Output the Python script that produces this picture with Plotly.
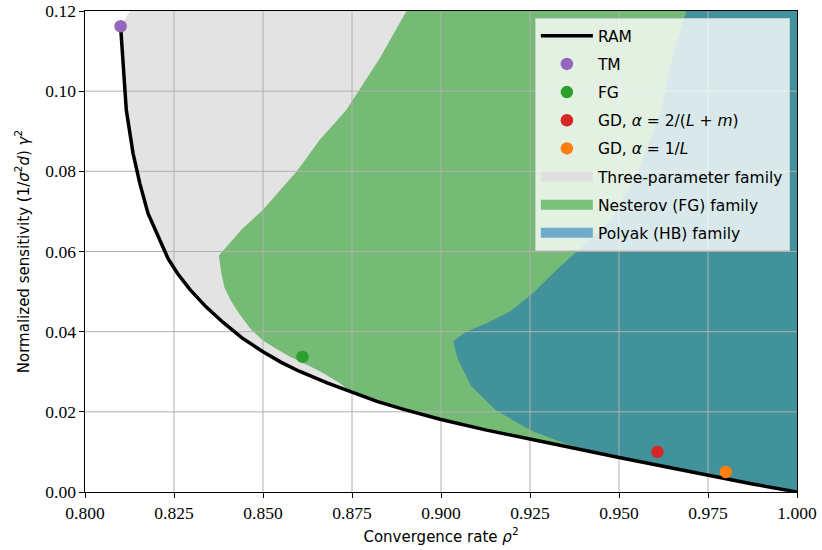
import plotly.graph_objects as go

# ---- data ----
ram_x = [0.8100, 0.8107, 0.8116, 0.8135, 0.8154, 0.8177, 0.8210, 0.8233, 0.8260, 0.8295,
         0.8340, 0.8388, 0.8440, 0.8500, 0.8550, 0.8600, 0.8680, 0.8750, 0.8820, 0.8900,
         0.9000, 0.9125, 0.9250, 0.9375, 0.9500, 0.9625, 0.9750, 0.9875, 1.0000]
ram_y = [0.1162, 0.1077, 0.0953, 0.0845, 0.0770, 0.0695, 0.0629, 0.0583, 0.0545, 0.0505,
         0.0462, 0.0423, 0.0385, 0.0350, 0.0324, 0.0302, 0.0272, 0.0248, 0.0226, 0.0205,
         0.0181, 0.0155, 0.0131, 0.0109, 0.0086, 0.0064, 0.0041, 0.0020, 0.0000]

# three-parameter family: top-left corner above the TM point
three_top_x = [0.8126]
three_top_y = [0.1200]

# Nesterov (FG) family boundary, from the top edge down to where it meets RAM
fg_x = [0.8903, 0.8828, 0.8734, 0.8659, 0.8594, 0.8500, 0.8440, 0.8400, 0.8376,
        0.8383, 0.8392, 0.8411, 0.8435, 0.8467, 0.8500, 0.8538, 0.8575, 0.8622,
        0.8669, 0.8715]
fg_y = [0.1200, 0.1082, 0.0953, 0.0878, 0.0799, 0.0704, 0.0655, 0.0615, 0.0590,
        0.0546, 0.0509, 0.0475, 0.0442, 0.0405, 0.0378, 0.0357, 0.0338, 0.0318,
        0.0297, 0.0272]

# Polyak (HB) family boundary, from the top edge down to where it meets RAM
hb_x = [0.9689, 0.9652, 0.9614, 0.9549, 0.9474, 0.9380, 0.9324, 0.9258, 0.9193,
        0.9128, 0.9071, 0.9034, 0.9048, 0.9085, 0.9156, 0.9254, 0.9352, 0.9420]
hb_y = [0.1200, 0.1090, 0.0940, 0.0791, 0.0674, 0.0598, 0.0554, 0.0496, 0.0450,
        0.0421, 0.0400, 0.0376, 0.0330, 0.0264, 0.0203, 0.0153, 0.0120, 0.0104]

points = {
    "TM": (0.8100, 0.1162, "#9467bd"),
    "FG": (0.8611, 0.0337, "#2ca02c"),
    "GD, <i>α</i> = 2/(<i>L</i> + <i>m</i>)": (0.9608, 0.0100, "#d62728"),
    "GD, <i>α</i> = 1/<i>L</i>": (0.9800, 0.0050, "#ff7f0e"),
}

families = [
    ("Three-parameter family", "#e3e3e3", "#dfe1df"),
    ("Nesterov (FG) family", "rgba(44,160,44,0.6)", "#7ac07a"),
    ("Polyak (HB) family", "rgba(31,119,180,0.6)", "#72aacc"),
]

x_ticks = [0.800, 0.825, 0.850, 0.875, 0.900, 0.925, 0.950, 0.975, 1.000]
x_ticktext = ["0.800", "0.825", "0.850", "0.875", "0.900", "0.925", "0.950", "0.975", "1.000"]
y_ticks = [0.00, 0.02, 0.04, 0.06, 0.08, 0.10, 0.12]
y_ticktext = ["0.00", "0.02", "0.04", "0.06", "0.08", "0.10", "0.12"]
x_range = [0.8, 1.0]
y_range = [0.0, 0.12]

SERIF = "Liberation Serif"
SANS = "DejaVu Sans"


def region(bx, by):
    """boundary points followed by RAM points to the right, then up the right edge"""
    xs = list(bx)
    ys = list(by)
    for x, y in zip(ram_x, ram_y):
        if x > bx[-1]:
            xs.append(x)
            ys.append(y)
    xs.append(x_range[1])
    ys.append(y_range[1])
    return xs, ys


fig = go.Figure()

shapes_xy = [
    (three_top_x + ram_x + [x_range[1]], three_top_y + ram_y + [y_range[1]]),
    region(fg_x, fg_y),
    region(hb_x, hb_y),
]
for (name, fill, _), (xs, ys) in zip(families, shapes_xy):
    fig.add_trace(go.Scatter(x=xs, y=ys, fill="toself", mode="lines", line=dict(width=0),
                             fillcolor=fill, showlegend=False, hoverinfo="skip"))

# grid lines above the fills, below the lines
grid_x, grid_y = [], []
for t in x_ticks[1:-1]:
    grid_x += [t, t, None]
    grid_y += [y_range[0], y_range[1], None]
for t in y_ticks[1:-1]:
    grid_x += [x_range[0], x_range[1], None]
    grid_y += [t, t, None]
fig.add_trace(go.Scatter(x=grid_x, y=grid_y, mode="lines", line=dict(color="#b0b0b0", width=1),
                         showlegend=False, hoverinfo="skip"))

fig.add_trace(go.Scatter(x=ram_x, y=ram_y, mode="lines",
                         line=dict(color="black", width=3.5),
                         name="RAM", legendrank=1, legendgroup="g1"))
for i, (name, (px, py, col)) in enumerate(points.items()):
    fig.add_trace(go.Scatter(x=[px], y=[py], mode="markers",
                             marker=dict(color=col, size=12.5, line=dict(width=0)),
                             name=name, legendrank=2 + i, legendgroup="g%d" % (2 + i)))

# legend swatches for the families
for i, (name, _, swatch) in enumerate(families):
    fig.add_trace(go.Scatter(x=[None], y=[None], mode="lines",
                             line=dict(color=swatch, width=15),
                             name=name, legendrank=6 + i, legendgroup="g%d" % (6 + i)))

axis_common = dict(showline=True, linecolor="black", linewidth=1.2, mirror=True,
                   ticks="outside", ticklen=4.5, tickwidth=1.1, tickcolor="black",
                   showgrid=False, zeroline=False, automargin=False,
                   tickfont=dict(family=SERIF, size=17.5, color="black"))

fig.update_layout(
    width=822, height=550,
    margin=dict(l=85, r=25, t=11, b=58),
    plot_bgcolor="white", paper_bgcolor="white",
    hovermode=False,
    xaxis=dict(range=x_range, tickvals=x_ticks, ticktext=x_ticktext,
               title=dict(text="Convergence rate <i>ρ</i><sup>2</sup>", standoff=9,
                          font=dict(family=SANS, size=15, color="black")),
               **axis_common),
    yaxis=dict(range=y_range, tickvals=y_ticks, ticktext=y_ticktext,
               title=dict(text="Normalized sensitivity (1/<i>σ</i><sup>2</sup><i>d</i>) <i>γ</i><sup>2</sup>",
                          standoff=12, font=dict(family=SANS, size=15, color="black")),
               **axis_common),
    legend=dict(x=0.99, y=0.985, xanchor="right", yanchor="top",
                bgcolor="rgba(255,255,255,0.8)", bordercolor="#cccccc", borderwidth=1,
                font=dict(family=SANS, size=15.5, color="black"),
                itemwidth=52, tracegroupgap=5),
)

fig.write_html("out.html", config={"displayModeBar": False},
               post_script="document.body.style.margin='0';document.body.style.padding='0';")
